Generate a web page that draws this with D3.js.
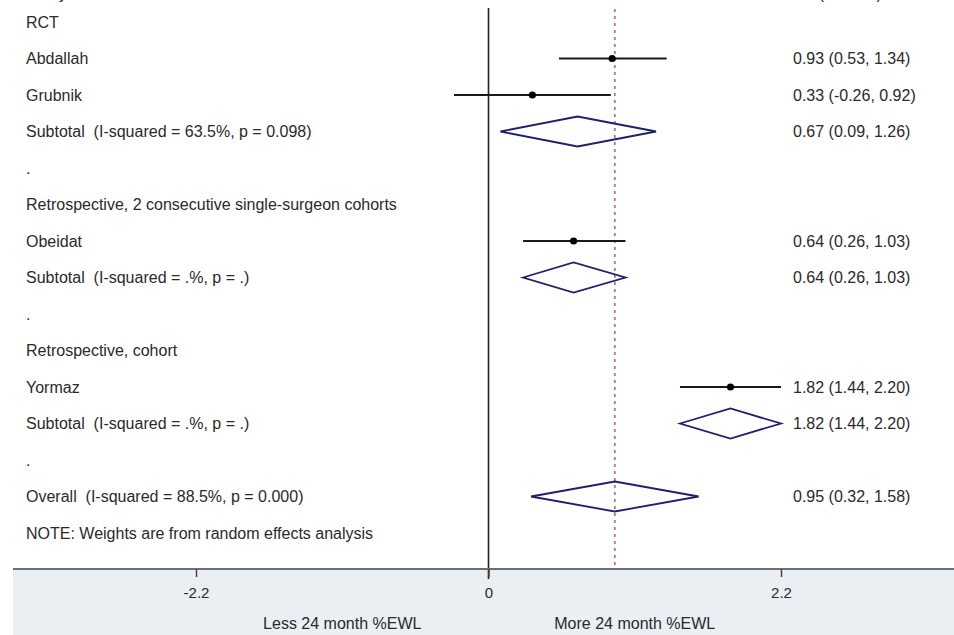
<!DOCTYPE html>
<html>
<head>
<meta charset="utf-8">
<script src="https://cdn.jsdelivr.net/npm/d3@7"></script>
<style>
  body { margin: 0; background: #fff; }
  svg text { font-family: "Liberation Sans", Arial, sans-serif; fill: #2a2a2a; white-space: pre; }
</style>
</head>
<body>
<svg id="forest" width="954" height="635"></svg>
<script>
// rows of the forest plot, top to bottom
var rowLabels = [
    "RCT",
    "Abdallah",
    "Grubnik",
    "Subtotal  (I-squared = 63.5%, p = 0.098)",
    ".",
    "Retrospective, 2 consecutive single-surgeon cohorts",
    "Obeidat",
    "Subtotal  (I-squared = .%, p = .)",
    ".",
    "Retrospective, cohort",
    "Yormaz",
    "Subtotal  (I-squared = .%, p = .)",
    ".",
    "Overall  (I-squared = 88.5%, p = 0.000)",
    "NOTE: Weights are from random effects analysis"
];
var rowTypes = ["group", "study", "study", "pooled", "blank", "group", "study", "pooled", "blank",
    "group", "study", "pooled", "blank", "pooled", "note"];
var es = [null, 0.93, 0.33, 0.67, null, null, 0.64, 0.64, null, null, 1.82, 1.82, null, 0.95, null];
var lo = [null, 0.53, -0.26, 0.09, null, null, 0.26, 0.26, null, null, 1.44, 1.44, null, 0.32, null];
var hi = [null, 1.34, 0.92, 1.26, null, null, 1.03, 1.03, null, null, 2.20, 2.20, null, 1.58, null];

var tickValues = [-2.2, 0, 2.2];
var tickLabels = ["-2.2", "0", "2.2"];
var overallES = 0.95;
var favourLabels = [{ at: -1.1, text: "Less 24 month %EWL" }, { at: 1.1, text: "More 24 month %EWL" }];

var svg = d3.select("svg#forest"),
    width = +svg.attr("width"),
    height = +svg.attr("height");

var axisY = 569;
var x = d3.scaleLinear().domain([-2.2, 2.2]).range([196, 781]);
var y = d3.scalePoint().domain(d3.range(rowLabels.length)).range([22, 533]);
var f2 = function(v) { return d3.format(".2f")(v).replace("\u2212", "-"); };

// light band under the axis
svg.append("rect")
    .attr("x", 13).attr("y", axisY)
    .attr("width", width - 13).attr("height", height - axisY)
    .attr("fill", "#e9eff2");

// column headers, almost fully cut off at the top as in the source
svg.append("text").attr("x", 26).attr("y", -1).style("font-size", "16px").text("Study ID");
svg.append("text").attr("x", 793).attr("y", -1).style("font-size", "16px").text("ES (95% CI)");

// no-effect line
svg.append("line")
    .attr("x1", x(0)).attr("x2", x(0))
    .attr("y1", 8).attr("y2", axisY + 10)
    .attr("stroke", "#222").attr("stroke-width", 1.6);

// overall effect dashed line
svg.append("line")
    .attr("x1", x(overallES)).attr("x2", x(overallES))
    .attr("y1", 9).attr("y2", axisY)
    .attr("stroke", "#b07886").attr("stroke-width", 1.8)
    .attr("stroke-dasharray", "3,4");

// left labels
svg.append("g").selectAll("text")
    .data(rowLabels)
    .enter().append("text")
    .attr("x", 26)
    .attr("y", function(d, i) { return y(i); })
    .attr("dy", "0.36em")
    .style("font-size", "16px")
    .text(function(d) { return d; });

var rows = d3.range(rowLabels.length).filter(function(i) { return es[i] !== null; });

// study CIs and points
var studies = rows.filter(function(i) { return rowTypes[i] === "study"; });
svg.append("g").selectAll("line")
    .data(studies)
    .enter().append("line")
    .attr("x1", function(i) { return x(lo[i]); })
    .attr("x2", function(i) { return x(hi[i]); })
    .attr("y1", function(i) { return y(i); })
    .attr("y2", function(i) { return y(i); })
    .attr("stroke", "#1a1a1a").attr("stroke-width", 2.2);
svg.append("g").selectAll("circle")
    .data(studies)
    .enter().append("circle")
    .attr("cx", function(i) { return x(es[i]); })
    .attr("cy", function(i) { return y(i); })
    .attr("r", 3.6)
    .attr("fill", "#000");

// pooled diamonds
var pooled = rows.filter(function(i) { return rowTypes[i] === "pooled"; });
svg.append("g").selectAll("path")
    .data(pooled)
    .enter().append("path")
    .attr("d", function(i) {
        var cy = y(i), h = 15;
        return "M" + x(lo[i]) + "," + cy + "L" + x(es[i]) + "," + (cy - h) +
            "L" + x(hi[i]) + "," + cy + "L" + x(es[i]) + "," + (cy + h) + "Z";
    })
    .attr("fill", "none")
    .attr("stroke", "#1f1f6e").attr("stroke-width", 1.8);

// right labels
svg.append("g").selectAll("text")
    .data(rows)
    .enter().append("text")
    .attr("x", 793)
    .attr("y", function(i) { return y(i); })
    .attr("dy", "0.36em")
    .style("font-size", "16px")
    .text(function(i) { return f2(es[i]) + " (" + f2(lo[i]) + ", " + f2(hi[i]) + ")"; });

// x axis
svg.append("line")
    .attr("x1", 13).attr("x2", width)
    .attr("y1", axisY).attr("y2", axisY)
    .attr("stroke", "#6e6e6e").attr("stroke-width", 2);

var axis = d3.axisBottom(x)
    .tickValues(tickValues)
    .tickFormat(function(d, i) { return tickLabels[i]; })
    .tickSize(8)
    .tickPadding(10);
var ax = svg.append("g")
    .attr("transform", "translate(0," + axisY + ")")
    .call(axis);
ax.select(".domain").remove();
ax.selectAll(".tick line").attr("stroke", "#444").attr("stroke-width", 1.5);
ax.selectAll(".tick text")
    .style("font-size", "15px")
    .style("font-family", "'Liberation Sans', Arial, sans-serif")
    .attr("fill", "#2a2a2a");

svg.append("g").selectAll("text")
    .data(favourLabels)
    .enter().append("text")
    .attr("x", function(d) { return x(d.at); })
    .attr("y", 623)
    .attr("dy", "0.36em")
    .attr("text-anchor", "middle")
    .style("font-size", "16px")
    .text(function(d) { return d.text; });
</script>
</body>
</html>
